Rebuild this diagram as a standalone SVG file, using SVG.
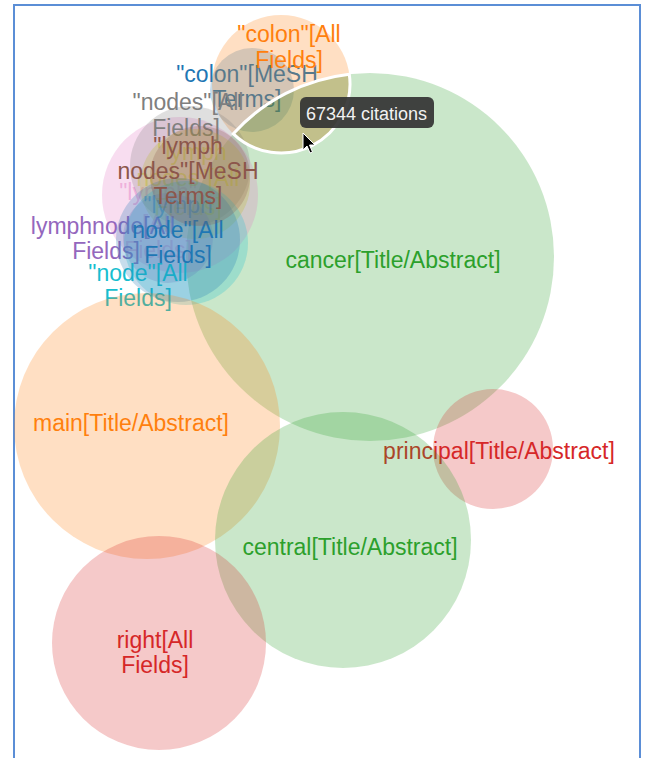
<svg xmlns="http://www.w3.org/2000/svg" width="645" height="758" viewBox="0 0 645 758">
<style>
text{font-family:"Liberation Sans",Arial,Helvetica,sans-serif;font-size:23px;text-anchor:middle}
circle{fill-opacity:0.25}
.c0{fill:#1f77b4}.c1{fill:#ff7f0e}.c2{fill:#2ca02c}.c3{fill:#d62728}.c4{fill:#9467bd}
.c5{fill:#8c564b}.c6{fill:#e377c2}.c7{fill:#7f7f7f}.c8{fill:#bcbd22}.c9{fill:#17becf}
.faint{fill-opacity:0.45}
.tip{font-size:18px;text-anchor:start;fill:#f2f2f2}
</style>
<rect x="0" y="0" width="645" height="758" fill="#ffffff"/>
<rect x="14" y="5" width="626" height="800" fill="none" stroke="#5b8ed6" stroke-width="2"/>
<g id="set-colon-mesh"><circle class="c0" cx="252" cy="90" r="42"/><text class="c0" x="247" y="82">"colon"[MeSH</text><text class="c0" x="247" y="107">Terms]</text></g>
<g id="set-colon-all"><circle class="c1" cx="281" cy="84" r="69"/><text class="c1" x="289" y="42">"colon"[All</text><text class="c1" x="289" y="68">Fields]</text></g>
<g id="set-cancer"><circle class="c2" cx="370" cy="257" r="184"/><text class="c2" x="393" y="268">cancer[Title/Abstract]</text></g>
<g id="set-principal"><circle class="c3" cx="493" cy="449" r="60"/><text class="c3" x="499" y="459">principal[Title/Abstract]</text></g>
<g id="set-lymph-all"><circle class="c6" cx="180" cy="195" r="78"/><text class="c6 faint" x="158" y="200">"lymph"</text><text class="c6 faint" x="158" y="232">[All</text><text class="c6 faint" x="158" y="258">Fields]</text></g>
<g id="set-nodes-all"><circle class="c7" cx="190" cy="166" r="60"/><text class="c7" x="188" y="110">"nodes"[All</text><text class="c7" x="186" y="136">Fields]</text></g>
<g id="set-lymph-nodes-all"><circle class="c8" cx="195" cy="184" r="55"/><text class="c8 faint" x="192" y="160">"lymph</text><text class="c8 faint" x="188" y="186">nodes"[All</text><text class="c8 faint" x="188" y="215">Fields]</text></g>
<g id="set-lymphnode"><circle class="c4" cx="168" cy="238" r="45"/><text class="c4" x="103" y="234">lymphnode[All</text><text class="c4" x="106" y="259">Fields]</text></g>
<g id="set-node-all"><circle class="c9" cx="186" cy="243" r="62"/><text class="c9" x="138" y="281">"node"[All</text><text class="c9" x="138" y="306">Fields]</text></g>
<g id="set-lymph-node-all"><circle class="c0" cx="178" cy="240" r="62"/><text class="c0 faint" x="178" y="213">"lymph</text><text class="c0" x="178" y="238">node"[All</text><text class="c0" x="178" y="263">Fields]</text></g>
<g id="set-lymph-nodes-mesh"><circle class="c5" cx="200" cy="176" r="50"/><text class="c5" x="188" y="154">"lymph</text><text class="c5" x="188" y="179">nodes"[MeSH</text><text class="c5" x="188" y="204">Terms]</text></g>
<g id="set-main"><circle class="c1" cx="147" cy="426" r="133"/><text class="c1" x="131" y="431">main[Title/Abstract]</text></g>
<g id="set-central"><circle class="c2" cx="343" cy="540" r="128"/><text class="c2" x="350" y="555">central[Title/Abstract]</text></g>
<g id="set-right"><circle class="c3" cx="159" cy="643" r="107"/><text class="c3" x="155" y="648">right[All</text><text class="c3" x="155" y="673">Fields]</text></g>
<g id="highlight"><path d="M233.3 133.8 A184 184 0 0 1 349.3 74.2 A69 69 0 0 1 233.3 133.8 Z" fill="#8b5a14" fill-opacity="0.12" stroke="#ffffff" stroke-width="3"/></g>
<g id="tooltip"><rect x="300" y="97" width="134" height="31" rx="6" fill="#333333" fill-opacity="0.92"/><text class="tip" x="306" y="120">67344 citations</text></g>
<g id="cursor"><path d="M303 133 L303 150 L307 146 L310 153 L312.5 152 L309.5 145 L315 145 Z" fill="#000000" stroke="#ffffff" stroke-width="1"/></g>
</svg>
